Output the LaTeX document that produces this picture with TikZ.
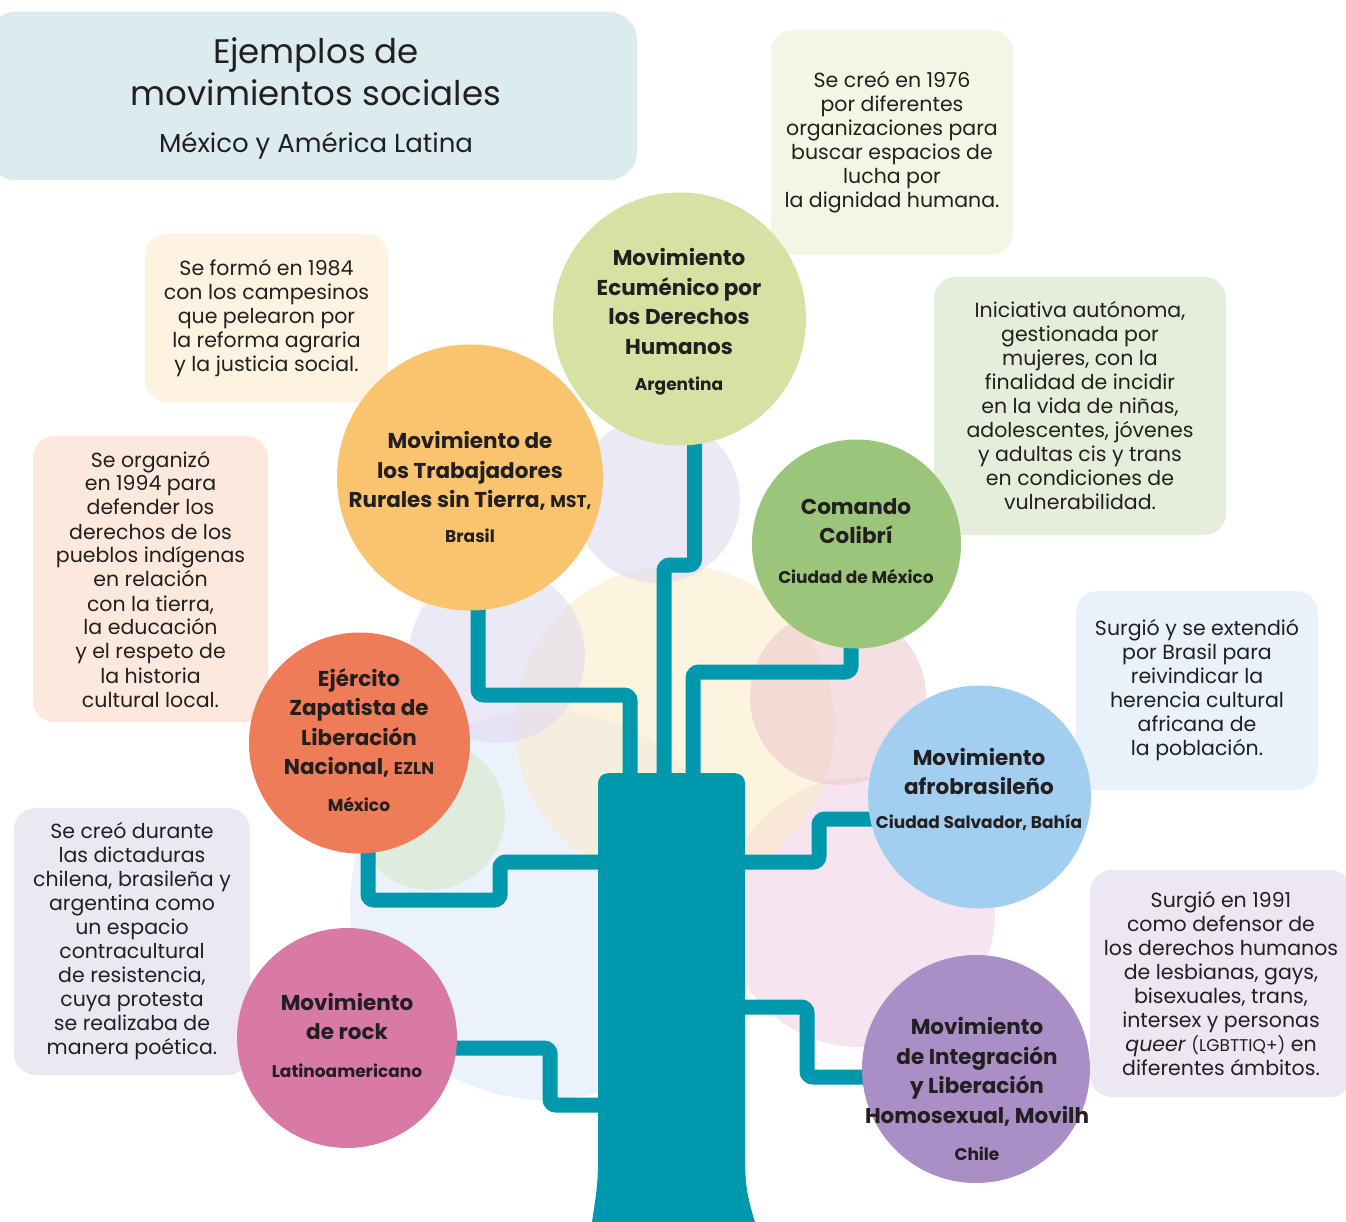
\documentclass[tikz,border=0pt]{standalone}
\usepackage{fontspec}
\setmainfont{Poppins}
\usetikzlibrary{calc}
\definecolor{teal1}{RGB}{0,152,173}
\definecolor{txt}{RGB}{35,31,32}
\definecolor{cEcu}{RGB}{213,226,163}
\definecolor{cMst}{RGB}{250,196,110}
\definecolor{cCol}{RGB}{155,197,122}
\definecolor{cEz}{RGB}{239,124,88}
\definecolor{cAfro}{RGB}{162,207,239}
\definecolor{cRock}{RGB}{217,122,166}
\definecolor{cMov}{RGB}{169,143,197}
\definecolor{bTitle}{RGB}{220,235,238}
\definecolor{bA}{RGB}{242,246,228}
\definecolor{bB}{RGB}{254,243,224}
\definecolor{bC}{RGB}{253,232,221}
\definecolor{bD}{RGB}{229,237,219}
\definecolor{bE}{RGB}{233,241,251}
\definecolor{bF}{RGB}{236,231,242}
\definecolor{bG}{RGB}{236,232,242}
\definecolor{gBlue}{RGB}{222,233,250}
\definecolor{gPink}{RGB}{240,208,228}
\definecolor{gYel}{RGB}{253,236,198}
\definecolor{gLav}{RGB}{222,216,240}
\definecolor{gPeach}{RGB}{236,200,205}
\definecolor{gGreen}{RGB}{212,230,196}
\newcommand\bxf{\fontsize{20.5}{24}\selectfont}
\newcommand\crf{\bfseries\fontsize{21.5}{29.5}\selectfont}
\newcommand\ctf{\fontsize{17}{29.5}\selectfont}
\newcommand\smf{\fontsize{17}{24}\selectfont}
\begin{document}
\begin{tikzpicture}[x=1pt,y=-1pt,
  conn/.style={draw=teal1, line width=15pt, rounded corners=6pt},
  circ/.style={circle, inner sep=0pt},
  ctext/.style={align=center, text=txt, font=\crf, inner sep=0pt},
  box/.style={rounded corners=22pt, inner sep=0pt, align=center, text=txt, font=\bxf},
  bgc/.style={circle, inner sep=0pt, fill opacity=0.55}]
\clip (0,0) rectangle (1346,1222);
\fill[white] (0,0) rectangle (1346,1222);

% faint background circles
\node[bgc, fill=gBlue, minimum size=390pt] (g1) at (545,905) {};
\node[bgc, fill=gPink, minimum size=270pt] (g2) at (860,912) {};
\node[bgc, fill=gYel, minimum size=320pt] (g3) at (675,725) {};
\node[bgc, fill=gLav, minimum size=166pt] (g4) at (657,500) {};
\node[bgc, fill=gLav, minimum size=176pt] (g5) at (497,655) {};
\node[bgc, fill=gPeach, minimum size=176pt] (g6) at (838,697) {};
\node[bgc, fill=gGreen, minimum size=150pt] (g7) at (430,815) {};

% title box
\node[rounded corners=28pt, fill=bTitle, minimum width=650pt, minimum height=168pt, inner sep=0pt] (tbox) at (312,96) {};
\node[align=center, text=txt, font=\fontsize{34}{42}\selectfont, inner sep=0pt] (title) at (316,72) {Ejemplos de\\movimientos sociales};
\node[text=txt, font=\fontsize{26}{30}\selectfont, inner sep=0pt] (subtitle) at (316,146) {México y América Latina};

% text boxes
\node[box, fill=bA, minimum width=242pt, minimum height=225pt] (b1) at (892,142.5)
  {Se creó en 1976\\por diferentes\\organizaciones para\\buscar espacios de\\lucha por\\la dignidad humana.};
\node[box, fill=bB, minimum width=243pt, minimum height=168pt] (b2) at (266.5,318)
  {Se formó en 1984\\con los campesinos\\que pelearon por\\la reforma agraria\\y la justicia social.};
\node[box, fill=bC, minimum width=235pt, minimum height=286pt] (b3) at (150.5,579)
  {Se organizó\\en 1994 para\\defender los\\derechos de los\\pueblos indígenas\\en relación\\con la tierra,\\la educación\\y el respeto de\\la historia\\cultural local.};
\node[box, fill=bD, minimum width=292pt, minimum height=258pt] (b4) at (1080,406)
  {Iniciativa autónoma,\\gestionada por\\mujeres, con la\\finalidad de incidir\\en la vida de niñas,\\adolescentes, jóvenes\\y adultas cis y trans\\en condiciones de\\vulnerabilidad.};
\node[box, fill=bE, minimum width=242pt, minimum height=199pt] (b5) at (1197,690.5)
  {Surgió y se extendió\\por Brasil para\\reivindicar la\\herencia cultural\\africana de\\la población.};
\node[box, fill=bF, minimum width=262pt, minimum height=227pt] (b6) at (1221,983.5)
  {Surgió en 1991\\como defensor de\\los derechos humanos\\de lesbianas, gays,\\bisexuales, trans,\\intersex y personas\\\textit{queer} {\smf(LGBTTIQ+)} en\\diferentes ámbitos.};
\node[box, fill=bG, minimum width=236pt, minimum height=267pt] (b7) at (132,941.5)
  {Se creó durante\\las dictaduras\\chilena, brasileña y\\argentina como\\un espacio\\contracultural\\de resistencia,\\cuya protesta\\se realizaba de\\manera poética.};

% circles (shapes named first, used by connectors)
\node[circ, minimum size=253pt] (ecu) at (679.5,319) {};
\node[circ, minimum size=266pt] (mst) at (470,477.5) {};
\node[circ, minimum size=209pt] (col) at (856.5,544) {};
\node[circ, minimum size=221pt] (ezln) at (359.5,743) {};
\node[circ, minimum size=223pt] (afro) at (979.5,797) {};
\node[circ, minimum size=220pt] (rock) at (347,1038) {};
\node[circ, minimum size=228pt] (mov) at (976,1069) {};

% trunk
\node[fill=teal1, rounded corners=10pt, minimum width=147pt, minimum height=520pt, inner sep=0pt, anchor=north] (trunk) at (671.5,773) {};
\fill[teal1] (592,1222) .. controls (596,1195) and (598,1185) .. (598,1160) -- (745,1160) .. controls (745,1185) and (748,1200) .. (755,1222) -- cycle;

% connectors
\draw[conn] ($(ecu.center)+(15,0)$) |- (664,565) -- ($(trunk.north -| 664,0)+(0,6)$);
\draw[conn] ($(mst.center)+(8,0)$) |- (630,695) -- ($(trunk.north -| 630,0)+(0,6)$);
\draw[conn] ($(col.center)+(-5.5,0)$) |- (693,672) -- ($(trunk.north -| 693,0)+(0,6)$);
\draw[conn] ($(ezln.center)+(8.5,0)$) |- (500,900) |- ($(trunk.west |- 0,862)+(6,0)$);
\draw[conn] ($(rock.center)+(0,10)$) -| (550,1105) -- ($(trunk.west |- 0,1105)+(6,0)$);
\draw[conn] ($(afro.center)+(0,22)$) -| (819,862) -- ($(trunk.east |- 0,862)+(-6,0)$);
\draw[conn] ($(mov.center)+(0,8)$) -| (807,1007) -- ($(trunk.east |- 0,1007)+(-6,0)$);

% circle fills on top
\fill[cEcu] (ecu) circle[radius=126.5pt];
\fill[cMst] (mst) circle[radius=133pt];
\fill[cCol] (col) circle[radius=104.5pt];
\fill[cEz] (ezln) circle[radius=110.5pt];
\fill[cAfro] (afro) circle[radius=111.5pt];
\fill[cRock] (rock) circle[radius=110pt];
\fill[cMov] (mov) circle[radius=114pt];

% circle texts
\node[ctext] (ecuT) at (679,322) {Movimiento\\Ecuménico por\\los Derechos\\Humanos\\[7pt]{\ctf Argentina}};
\node[ctext] (mstT) at (470,487) {Movimiento de\\los Trabajadores\\Rurales sin Tierra, {\ctf MST,}\\[5pt]{\ctf Brasil}};
\node[ctext] (colT) at (856,541) {Comando\\Colibrí\\[10pt]{\ctf Ciudad de México}};
\node[ctext] (ezlnT) at (359,740) {Ejército\\Zapatista de\\Liberación\\Nacional, {\ctf EZLN}\\[7pt]{\ctf México}};
\node[ctext] (afroT) at (979,789) {Movimiento\\afrobrasileño\\[4pt]{\ctf Ciudad Salvador, Bahía}};
\node[ctext] (rockT) at (347,1035) {Movimiento\\de rock\\[8pt]{\ctf Latinoamericano}};
\node[ctext] (movT) at (977,1089) {Movimiento\\de Integración\\y Liberación\\Homosexual, Movilh\\[8pt]{\ctf Chile}};
\end{tikzpicture}
\end{document}
